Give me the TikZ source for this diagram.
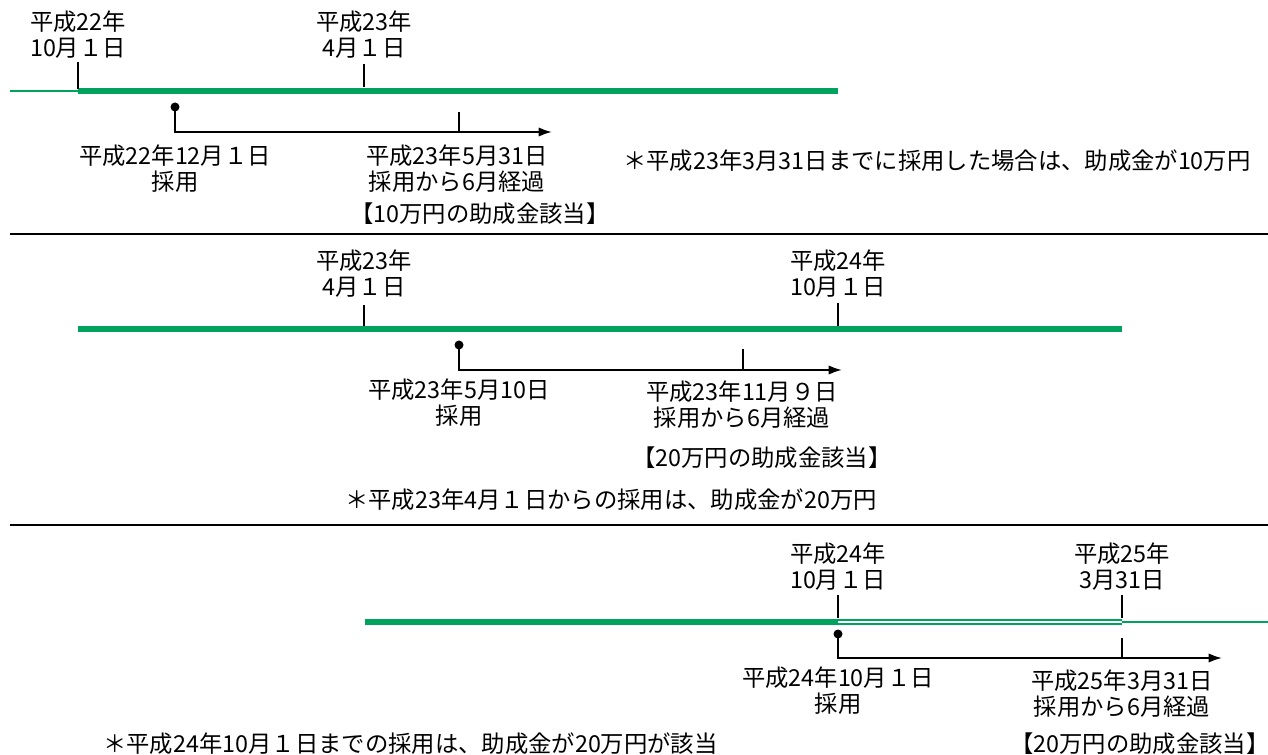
\documentclass[tikz,border=0pt]{standalone}
\usepackage{fontspec}
\setmainfont{Noto Sans CJK JP}
\usetikzlibrary{arrows.meta,positioning}
\definecolor{barGreen}{RGB}{0,163,94}

\begin{document}
\begin{tikzpicture}[
    x=0.75pt, y=-0.75pt,
    >=Latex,
    % 文字と線のスタイル
    lbl/.style={align=center, inner sep=0pt, font=\fontsize{17.5}{19.5}\selectfont},
    note/.style={anchor=west, inner sep=0pt, font=\fontsize{17.5}{19.5}\selectfont},
    tickline/.style={line width=1.5pt},
    period/.style={line width=1.5pt, -{Latex[length=10pt, width=7pt]}},
    thinbar/.style={barGreen, line width=1.6pt},
    thickbar/.style={barGreen, line width=4pt},
    sepline/.style={line width=1.5pt},
]
    \useasboundingbox (0,0) rectangle (1268,755);

    % --- 1. 上段 (平成22年10月1日〜) ---
    \node[lbl] (dA1) at (78,35)  {平成22年\\10月１日};
    \node[lbl] (dA2) at (364,35) {平成23年\\4月１日};

    \draw[thinbar]  (10,91) -- (78,91);
    \draw[thickbar] (78,91) -- (838,91);
    \draw[tickline] (78,62) -- (78,89);
    \draw[tickline] (364,64) -- (364,87);

    \coordinate (hireA) at (175,107);
    \coordinate (endA)  at (552,132);
    \fill (hireA) circle (4.5);
    \draw[period] (hireA) |- (endA);
    \draw[tickline] (459,112) -- (459,132);

    \node[lbl] (hA) at (175,169) {平成22年12月１日\\採用};
    \node[lbl] (eA) at (457,169) {平成23年5月31日\\採用から6月経過};
    \node[lbl] (pA) at (480,214) {【10万円の助成金該当】};
    \node[note] (nA) at (623,161) {＊平成23年3月31日までに採用した場合は、助成金が10万円};

    \draw[sepline] (10,234) -- (1268,234);

    % --- 2. 中段 (平成23年4月1日〜) ---
    \node[lbl] (dB1) at (364,274) {平成23年\\4月１日};
    \node[lbl] (dB2) at (838,274) {平成24年\\10月１日};

    \draw[thickbar] (78,329) -- (1122,329);
    \draw[tickline] (364,305) -- (364,326);
    \draw[tickline] (838,303) -- (838,326);

    \coordinate (hireB) at (459,345);
    \coordinate (endB)  at (842,370);
    \fill (hireB) circle (4.5);
    \draw[period] (hireB) |- (endB);
    \draw[tickline] (743,349) -- (743,370);

    \node[lbl] (hB) at (459,403) {平成23年5月10日\\採用};
    \node[lbl] (eB) at (742,405) {平成23年11月９日\\採用から6月経過};
    \node[lbl] (pB) at (762,458) {【20万円の助成金該当】};
    \node[lbl] (nB) at (611,500) {＊平成23年4月１日からの採用は、助成金が20万円};

    \draw[sepline] (10,525) -- (1268,525);

    % --- 3. 下段 (平成24年10月1日〜) ---
    \node[lbl] (dC1) at (838,567)  {平成24年\\10月１日};
    \node[lbl] (dC2) at (1122,567) {平成25年\\3月31日};

    \draw[thickbar] (365,622) -- (838,622);
    \draw[thickbar] (838,622) -- (1122,622);
    \draw[white, line width=1.1pt] (838,622) -- (1122,622);
    \draw[thinbar] (1122,622) -- (1268,622);
    \draw[tickline] (838,595) -- (838,618);
    \draw[tickline] (1122,595) -- (1122,618);

    \coordinate (hireC) at (838,634);
    \coordinate (endC)  at (1222,658);
    \fill (hireC) circle (4.5);
    \draw[period] (hireC) |- (endC);
    \draw[tickline] (1122,638) -- (1122,658);

    \node[lbl] (hC) at (838,691)  {平成24年10月１日\\採用};
    \node[lbl] (eC) at (1122,694) {平成25年3月31日\\採用から6月経過};
    \node[lbl] (pC) at (1140,744) {【20万円の助成金該当】};
    \node[note] (nC) at (103,744) {＊平成24年10月１日までの採用は、助成金が20万円が該当};

\end{tikzpicture}
\end{document}
